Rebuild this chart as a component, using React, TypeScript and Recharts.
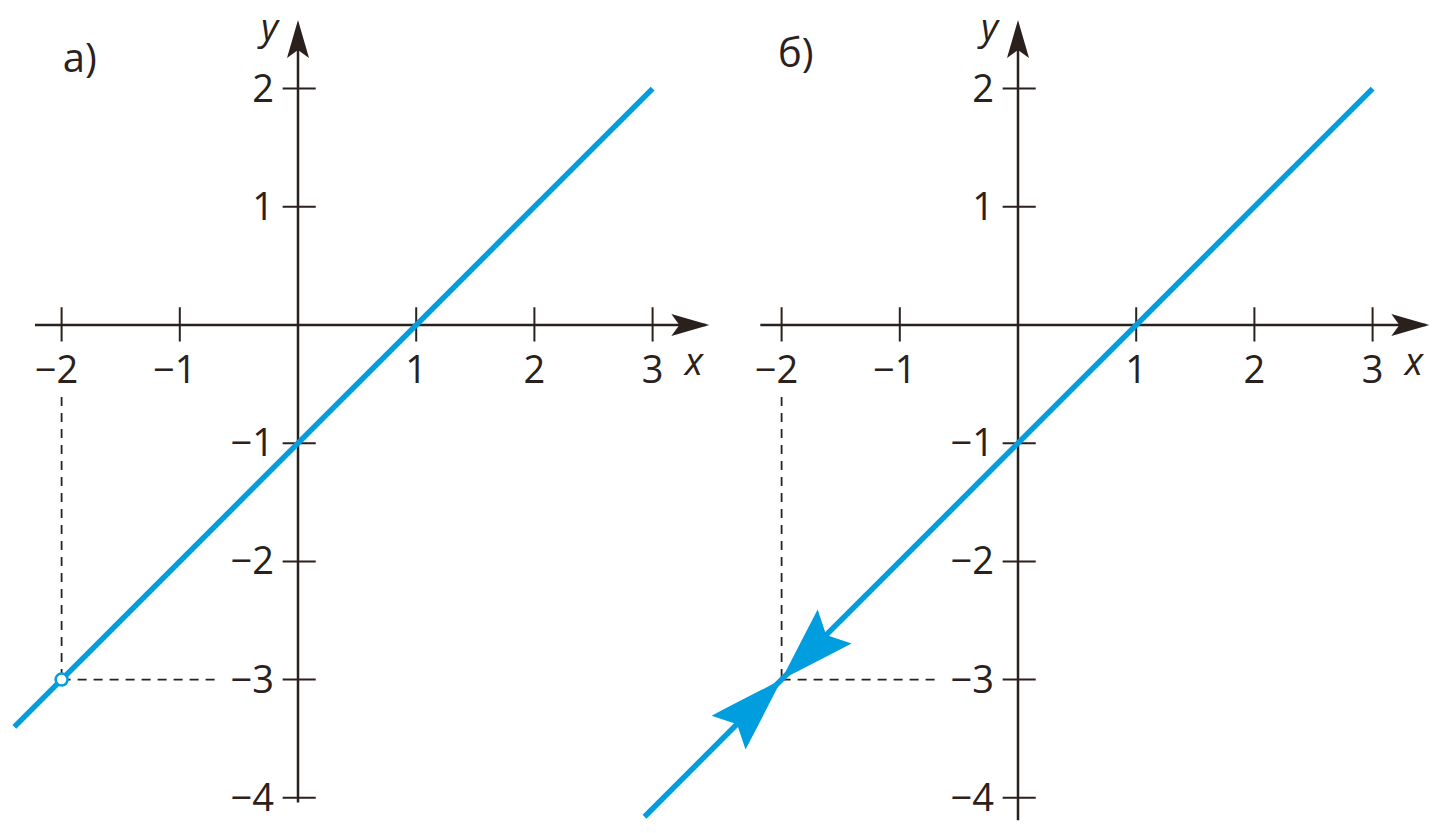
import { LineChart, Line, XAxis, YAxis, ReferenceLine, ReferenceDot } from "recharts";

// values
const xTicks = [-2, -1, 1, 2, 3];
const yTicks = [2, 1, -1, -2, -3, -4];
const lineA = [
  { x: -2.4, y: -3.4 },
  { x: 3, y: 2 },
];
const lineB = [
  { x: -3.16, y: -4.16 },
  { x: 3, y: 2 },
];
const markedPoint = { x: -2, y: -3 };
const guideStartY = -0.61; // vertical dashed line starts below the tick labels
const guideEndX = -0.66; // horizontal dashed line stops before the y labels
const axisXA = [-2.225, 3.45];
const axisYA = [-4.04, 2.5];
const axisXB = [-2.18, 3.45];
const axisYB = [-4.19, 2.5];
const arrowTipX = 3.48;
const arrowTipY = 2.58;
const axisNameX = { x: 3.35, y: 0 };
const axisNameY = { x: -0.24, y: 2.41 };

const UNIT = 118.2;
const HEIGHT = 833;
const ORIGIN_Y = 325;
const INK = "#2b211c";
const BLUE = "#009ddf";
const FONT = "'Open Sans', 'Noto Sans', sans-serif";
const BLUE_ARROW = "M0,0 Q-34,-11 -75,-24 L-63,0 L-75,24 Q-34,11 0,0 Z";

const fmt = (v: number) => (v < 0 ? `\u2212${-v}` : `${v}`);

interface PanelProps {
  left: number;
  width: number;
  originX: number;
  data: { x: number; y: number }[];
  axisX: number[];
  axisY: number[];
  title: string;
  titlePos: { x: number; y: number };
  arrows?: boolean;
  openDot?: boolean;
}

const Panel = ({ left, width, originX, data, axisX, axisY, title, titlePos, arrows, openDot }: PanelProps) => {
  const xDomain = [-originX / UNIT, (width - originX) / UNIT];
  const yDomain = [-(HEIGHT - ORIGIN_Y) / UNIT, ORIGIN_Y / UNIT];
  const textStyle = { fontFamily: FONT, fontSize: 38, fill: INK };

  return (
    <div style={{ position: "absolute", left, top: 0 }}>
      <LineChart width={width} height={HEIGHT} data={data} margin={{ top: 0, right: 0, bottom: 0, left: 0 }}>
        <XAxis type="number" dataKey="x" domain={xDomain} allowDataOverflow hide />
        <YAxis type="number" dataKey="y" domain={yDomain} allowDataOverflow hide />

        {/* dashed guides */}
        <ReferenceLine
          segment={[{ x: markedPoint.x, y: guideStartY }, { x: markedPoint.x, y: markedPoint.y }]}
          stroke={INK}
          strokeWidth={1.8}
          strokeDasharray="9 7"
        />
        <ReferenceLine
          segment={[{ x: markedPoint.x, y: markedPoint.y }, { x: guideEndX, y: markedPoint.y }]}
          stroke={INK}
          strokeWidth={1.8}
          strokeDasharray="9 7"
        />

        {/* axes */}
        <ReferenceLine segment={[{ x: axisX[0], y: 0 }, { x: axisX[1], y: 0 }]} stroke={INK} strokeWidth={2.5} />
        <ReferenceLine segment={[{ x: 0, y: axisY[0] }, { x: 0, y: axisY[1] }]} stroke={INK} strokeWidth={2.5} />
        {xTicks.map((v) => (
          <ReferenceLine key={`xt${v}`} segment={[{ x: v, y: -0.14 }, { x: v, y: 0.15 }]} stroke={INK} strokeWidth={2} />
        ))}
        {yTicks.map((v) => (
          <ReferenceLine key={`yt${v}`} segment={[{ x: -0.13, y: v }, { x: 0.15, y: v }]} stroke={INK} strokeWidth={2} />
        ))}
        <ReferenceDot
          x={arrowTipX}
          y={0}
          shape={(p: any) => (
            <path d="M0,0 L-38,-11 L-30,0 L-38,11 Z" fill={INK} transform={`translate(${p.cx},${p.cy})`} />
          )}
        />
        <ReferenceDot
          x={0}
          y={arrowTipY}
          shape={(p: any) => (
            <path d="M0,0 L-11,38 L0,30 L11,38 Z" fill={INK} transform={`translate(${p.cx},${p.cy})`} />
          )}
        />

        {/* tick labels */}
        {xTicks.map((v) => (
          <ReferenceDot
            key={`xl${v}`}
            x={v}
            y={0}
            shape={(p: any) => (
              <text x={p.cx + (v < 0 ? -5 : 0)} y={p.cy + 58} textAnchor="middle" {...textStyle}>
                {fmt(v)}
              </text>
            )}
          />
        ))}
        {yTicks.map((v) => (
          <ReferenceDot
            key={`yl${v}`}
            x={0}
            y={v}
            shape={(p: any) => (
              <text x={p.cx - 24} y={p.cy + 13} textAnchor="end" {...textStyle}>
                {fmt(v)}
              </text>
            )}
          />
        ))}
        <ReferenceDot
          x={axisNameX.x}
          y={axisNameX.y}
          shape={(p: any) => (
            <text x={p.cx} y={p.cy + 50} textAnchor="middle" fontStyle="italic" {...textStyle}>
              x
            </text>
          )}
        />
        <ReferenceDot
          x={axisNameY.x}
          y={axisNameY.y}
          shape={(p: any) => (
            <text x={p.cx} y={p.cy} textAnchor="middle" fontStyle="italic" fontFamily={FONT} fontSize={37} fill={INK}>
              y
            </text>
          )}
        />
        <ReferenceDot
          x={titlePos.x}
          y={titlePos.y}
          shape={(p: any) => (
            <text x={p.cx} y={p.cy} textAnchor="start" fontFamily={FONT} fontSize={40} fill={INK}>
              {title}
            </text>
          )}
        />

        <Line
          type="linear"
          dataKey="y"
          stroke={BLUE}
          strokeWidth={5.5}
          dot={false}
          activeDot={false}
          isAnimationActive={false}
        />

        {openDot && (
          <ReferenceDot x={markedPoint.x} y={markedPoint.y} r={6} fill="#ffffff" stroke={BLUE} strokeWidth={2.5} />
        )}
        {arrows && (
          <ReferenceDot
            x={markedPoint.x}
            y={markedPoint.y}
            shape={(p: any) => (
              <g transform={`translate(${p.cx},${p.cy})`} fill={BLUE}>
                <path d={BLUE_ARROW} transform="rotate(135)" />
                <path d={BLUE_ARROW} transform="rotate(-45)" />
              </g>
            )}
          />
        )}
      </LineChart>
    </div>
  );
};

const App = () => (
  <div style={{ position: "absolute", left: 0, top: 0, width: 1444, height: HEIGHT, background: "#ffffff", overflow: "hidden" }}>
    <Panel
      left={0}
      width={722}
      originX={298}
      data={lineA}
      axisX={axisXA}
      axisY={axisYA}
      title="а)"
      titlePos={{ x: -1.99, y: 2.14 }}
      openDot
    />
    <Panel
      left={620}
      width={824}
      originX={398}
      data={lineB}
      axisX={axisXB}
      axisY={axisYB}
      title="б)"
      titlePos={{ x: -2.03, y: 2.18 }}
      arrows
    />
  </div>
);

export default App;
